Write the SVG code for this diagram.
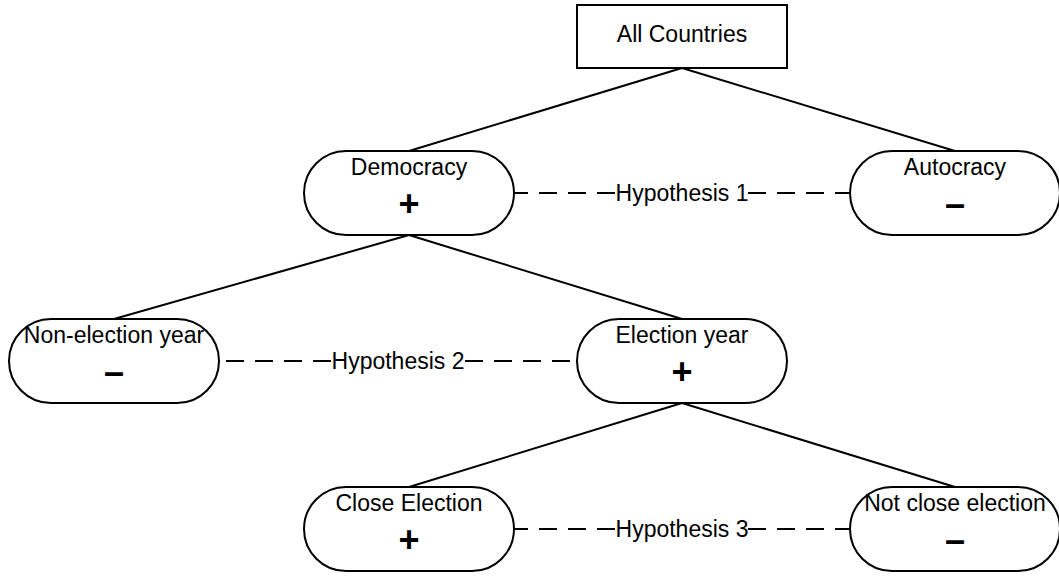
<svg xmlns="http://www.w3.org/2000/svg" width="1059" height="576" viewBox="0 0 1059 576">
<style>
.box{fill:#fff;stroke:#000;stroke-width:2}
.edge{stroke:#000;stroke-width:2;fill:none}
.dash{stroke:#000;stroke-width:2;fill:none;stroke-dasharray:18 11}
.lbl{font-family:"Liberation Sans",Arial,sans-serif;font-size:23px;fill:#000;text-anchor:middle}
.sign{font-family:"Liberation Sans",Arial,sans-serif;font-size:36px;font-weight:bold;fill:#000;text-anchor:middle}
</style>
<rect width="1059" height="576" fill="#fff"/>
<g id="connectors">
<line class="edge" x1="682" y1="68" x2="409" y2="151"/>
<line class="edge" x1="682" y1="68" x2="955" y2="151"/>
<line class="edge" x1="409" y1="235" x2="114" y2="319"/>
<line class="edge" x1="409" y1="235" x2="682" y2="319"/>
<line class="edge" x1="682" y1="403" x2="409" y2="487"/>
<line class="edge" x1="682" y1="403" x2="955" y2="487"/>
<g id="h1">
<line class="dash" x1="615" y1="193" x2="514" y2="193"/>
<line class="dash" x1="748" y1="193" x2="850" y2="193"/>
<text class="lbl" x="682" y="201">Hypothesis 1</text>
</g>
<g id="h2">
<line class="dash" x1="331" y1="361" x2="219" y2="361"/>
<line class="dash" x1="465" y1="361" x2="577" y2="361"/>
<text class="lbl" x="398" y="369">Hypothesis 2</text>
</g>
<g id="h3">
<line class="dash" x1="615" y1="529" x2="514" y2="529"/>
<line class="dash" x1="748" y1="529" x2="850" y2="529"/>
<text class="lbl" x="682" y="537">Hypothesis 3</text>
</g>
</g>
<g id="all-countries">
<rect class="box" x="577" y="5" width="210" height="63"/>
<text class="lbl" x="682" y="42">All Countries</text>
</g>
<g id="democracy">
<rect class="box" x="304" y="151" width="210" height="84" rx="42"/>
<text class="lbl" x="409" y="175">Democracy</text>
<text class="sign" x="409" y="216">+</text>
</g>
<g id="autocracy">
<rect class="box" x="850" y="151" width="210" height="84" rx="42"/>
<text class="lbl" x="955" y="175">Autocracy</text>
<text class="sign" x="955" y="216">–</text>
</g>
<g id="non-election-year">
<rect class="box" x="9" y="319" width="210" height="84" rx="42"/>
<text class="lbl" x="114" y="343">Non-election year</text>
<text class="sign" x="114" y="384">–</text>
</g>
<g id="election-year">
<rect class="box" x="577" y="319" width="210" height="84" rx="42"/>
<text class="lbl" x="682" y="343">Election year</text>
<text class="sign" x="682" y="384">+</text>
</g>
<g id="close-election">
<rect class="box" x="304" y="487" width="210" height="84" rx="42"/>
<text class="lbl" x="409" y="511">Close Election</text>
<text class="sign" x="409" y="552">+</text>
</g>
<g id="not-close-election">
<rect class="box" x="850" y="487" width="210" height="84" rx="42"/>
<text class="lbl" x="955" y="511">Not close election</text>
<text class="sign" x="955" y="552">–</text>
</g>
</svg>
